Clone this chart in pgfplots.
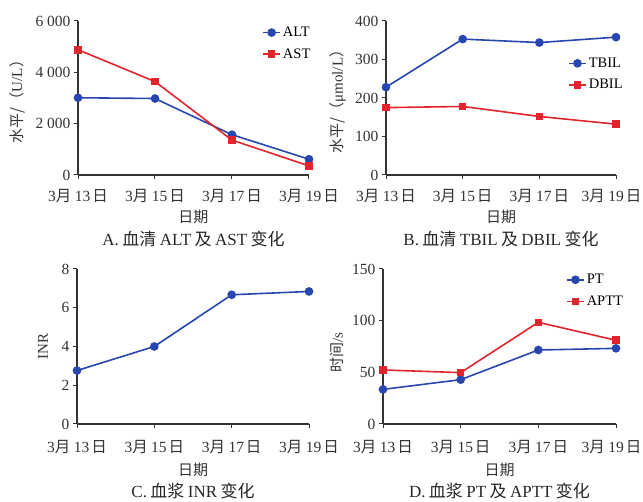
\documentclass[border=0pt]{standalone}
\usepackage{fontspec}
\setmainfont{Liberation Serif}
\newfontfamily\cjk{Noto Sans CJK SC}
\usepackage{pgfplots}
\pgfplotsset{compat=1.18}
\definecolor{cblue}{RGB}{40,70,176}
\definecolor{cred}{RGB}{226,36,44}
\newcommand\md[1]{3{\cjk 月}\hspace{0.22em}#1\hspace{0.12em}{\cjk 日}}
\newcommand\gap{\hspace{0.2em}}

\tikzset{captxt/.style={font=\fontsize{17}{18}\selectfont, text=black!85}}
\pgfplotsset{
  panel/.style={
    scale only axis, axis lines=left,
    axis line style={-, line width=1.1pt, black!80},
    xmin=0, xmax=3, xtick={0,1,2,3},
    xticklabels={\md{13},\md{15},\md{17},\md{19}},
    tick align=outside, major tick length=4pt,
    tick style={line width=1pt, black!80},
    ticklabel style={font=\fontsize{15.5}{16}\selectfont, text=black!80},
    label style={font=\fontsize{15}{16}\selectfont, text=black!80},
    xlabel={\cjk 日期},
    scaled y ticks=false,
    /pgf/number format/assume math mode=true,
    /pgf/number format/1000 sep={\hspace{0.25em}},
    legend style={draw=none, fill=none, anchor=north west,
      font=\fontsize{14.5}{15}\selectfont, row sep=6.5pt, inner sep=0pt,
      cells={anchor=west}},
    clip=false,
  },
  rightcut/.style={xticklabels={\md{13},\md{15},\md{17},{\md{19}\hspace{9pt}\mbox{}}}},
  bl/.style={cblue, line width=1.6pt, mark=*, mark size=3.5pt},
  rd/.style={cred, line width=1.6pt, mark=square*, mark size=3pt},
}

\begin{document}
\begin{tikzpicture}
\path[use as bounding box] (0,0) rectangle (643pt,502pt);

% A
\begin{axis}[panel, at={(78pt,327pt)}, anchor=south west,
  width=231pt, height=154pt,
  x tick label style={yshift=-7pt},
  xlabel style={at={(axis description cs:0.5,-0.273)}, anchor=center},
  ymin=0, ymax=6000, ytick={0,2000,4000,6000},
  ylabel={{\cjk 水平/（}U/L{\cjk ）}},
  ylabel style={at={(axis description cs:-0.264,0.5)}, anchor=center},
  legend style={at={(axis description cs:0.797,0.975)}}]
\addplot[bl] coordinates {(0,3010) (1,2980) (2,1570) (3,615)};
\addplot[rd] coordinates {(0,4880) (1,3640) (2,1360) (3,355)};
\legend{ALT,AST}
\node[captxt] at (rel axis cs:0.5,-0.416) {A.\gap{\cjk 血清}\gap ALT\gap{\cjk 及}\gap AST\gap{\cjk 变化}};
\end{axis}

% B
\begin{axis}[panel, rightcut, at={(386pt,327pt)}, anchor=south west,
  width=230pt, height=154pt,
  x tick label style={yshift=-7pt},
  xlabel style={at={(axis description cs:0.5,-0.273)}, anchor=center},
  ymin=0, ymax=400, ytick={0,100,200,300,400},
  ylabel={{\cjk 水平/（}μmol/L{\cjk ）}},
  ylabel style={at={(axis description cs:-0.209,0.5)}, anchor=center},
  legend style={at={(axis description cs:0.791,0.775)}}]
\addplot[bl] coordinates {(0,228) (1,353) (2,344) (3,358)};
\addplot[rd] coordinates {(0,175) (1,178) (2,152) (3,132)};
\legend{TBIL,DBIL}
\node[captxt] at (rel axis cs:0.5,-0.416) {B.\gap{\cjk 血清}\gap TBIL\gap{\cjk 及}\gap DBIL\gap{\cjk 变化}};
\end{axis}

% C
\begin{axis}[panel, at={(77pt,78pt)}, anchor=south west,
  width=232pt, height=155pt,
  x tick label style={yshift=-9pt},
  xlabel style={at={(axis description cs:0.5,-0.297)}, anchor=center},
  ymin=0, ymax=8, ytick={0,2,4,6,8},
  ylabel={INR},
  ylabel style={at={(axis description cs:-0.147,0.5)}, anchor=center}]
\addplot[bl] coordinates {(0,2.76) (1,4.0) (2,6.67) (3,6.84)};
\node[captxt] at (rel axis cs:0.5,-0.432) {C.\gap{\cjk 血浆}\gap INR\gap{\cjk 变化}};
\end{axis}

% D
\begin{axis}[panel, rightcut, at={(383pt,78pt)}, anchor=south west,
  width=233pt, height=155pt,
  x tick label style={yshift=-9pt},
  xlabel style={at={(axis description cs:0.5,-0.297)}, anchor=center},
  ymin=0, ymax=150, ytick={0,50,100,150},
  ylabel={{\cjk 时间}/s},
  ylabel style={at={(axis description cs:-0.198,0.46)}, anchor=center},
  legend style={at={(axis description cs:0.785,0.98)}}]
\addplot[bl] coordinates {(0,33.5) (1,42.9) (2,71.6) (3,73.2)};
\addplot[rd] coordinates {(0,52.3) (1,49.7) (2,98.4) (3,81.0)};
\legend{PT,APTT}
\node[captxt] at (rel axis cs:0.5,-0.432) {D.\gap{\cjk 血浆}\gap PT\gap{\cjk 及}\gap APTT\gap{\cjk 变化}};
\end{axis}
\end{tikzpicture}
\end{document}
